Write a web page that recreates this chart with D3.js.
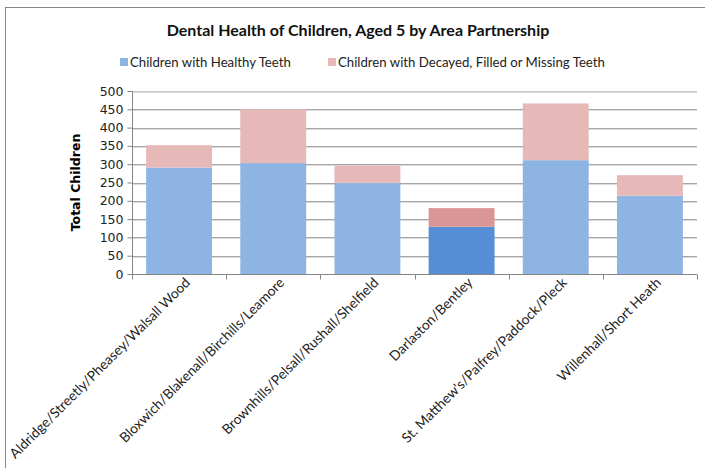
<!DOCTYPE html>
<html><head><meta charset="utf-8">
<script src="https://cdn.jsdelivr.net/npm/d3@7"></script>
<style>body{margin:0;background:#fff}svg{display:block}</style>
</head><body>
<svg id="c" width="705" height="468"></svg>
<script>
const categories = ["Aldridge/Streetly/Pheasey/Walsall Wood","Bloxwich/Blakenall/Birchills/Leamore","Brownhills/Pelsall/Rushall/Shelfield","Darlaston/Bentley","St. Matthew's/Palfrey/Paddock/Pleck","Willenhall/Short Heath"];
const healthy = [291, 303, 249, 129, 311, 214];
const decayed = [61, 147, 47, 51, 155, 56];
const seriesNames = ["Children with Healthy Teeth","Children with Decayed, Filled or Missing Teeth"];
const yTicks = [0,50,100,150,200,250,300,350,400,450,500];
const highlighted = "Darlaston/Bentley";

const svg = d3.select("#c");
const m = {l:132, r:697, t:91, b:274};
svg.append("rect").attr("x",5.5).attr("y",7.5).attr("width",720).attr("height",480).attr("fill","#fff").attr("stroke","#868686");

const x = d3.scaleBand().domain(categories).range([m.l, m.r]).paddingInner(0.3).paddingOuter(0.15);
const y = d3.scaleLinear().domain([0,500]).range([m.b, m.t]);

// gridlines
const g = svg.append("g");
yTicks.filter(t=>t>0).forEach(t=>{
  g.append("line").attr("x1",m.l).attr("x2",m.r).attr("y1",Math.round(y(t))+1.5).attr("y2",Math.round(y(t))+1.5).attr("stroke","#dcdcdc");
  g.append("line").attr("x1",m.l).attr("x2",m.r).attr("y1",Math.round(y(t))+0.5).attr("y2",Math.round(y(t))+0.5).attr("stroke", t===500?"#c8c8c8":"#a6a6a6");
});

const data = categories.map((c,i)=>({c, h:healthy[i], d:decayed[i]}));
const stack = d3.stack().keys(["h","d"])(data);
const colors = {h:["#8EB4E3","#558ED5"], d:["#E6B9B8","#D99694"]};
stack.forEach(s=>{
  svg.append("g").selectAll("rect").data(s).join("rect")
    .attr("x", d=>x(d.data.c)).attr("width", x.bandwidth())
    .attr("y", d=>y(d[1])).attr("height", d=>y(d[0])-y(d[1]))
    .attr("fill", d=>colors[s.key][d.data.c===highlighted?1:0]);
});

// y axis
const ya = svg.append("g").attr("transform",`translate(${m.l+0.5},0)`)
  .call(d3.axisLeft(y).tickValues(yTicks).tickSize(5).tickPadding(4));
ya.select(".domain").attr("stroke","#868686").attr("d",`M0,${m.t}V${m.b}`);
ya.selectAll(".tick line").attr("stroke","#868686");
ya.selectAll(".tick text").attr("font-family","DejaVu Sans").attr("font-size","12.5px").attr("fill","#222");

// x axis
const xa = svg.append("g").attr("transform",`translate(0,${m.b+0.5})`);
xa.append("line").attr("x1",m.l).attr("x2",m.r).attr("stroke","#868686");
const bounds = [m.l, ...categories.map(c=>x(c)+x.bandwidth()+x.step()*x.paddingInner()/2)];
bounds[bounds.length-1] = m.r;
xa.selectAll("line.tk").data(bounds).join("line").attr("class","tk")
  .attr("x1",d=>Math.round(d)+0.5).attr("x2",d=>Math.round(d)+0.5).attr("y1",0).attr("y2",5).attr("stroke","#868686");
xa.selectAll("text").data(categories).join("text")
  .attr("transform", c=>`translate(${x(c)+x.bandwidth()/2+12},${9}) rotate(-45)`)
  .attr("text-anchor","end").attr("font-family","Lato").attr("font-size","13.8px").attr("fill","#222")
  .text(c=>c);

// y title
svg.append("text").attr("transform",`translate(80,${(m.t+m.b)/2}) rotate(-90)`)
  .attr("text-anchor","middle").attr("font-family","DejaVu Sans").attr("font-weight","bold").attr("font-size","12.5px").text("Total Children");

// title
svg.append("text").attr("x",358).attr("y",36).attr("text-anchor","middle")
  .attr("font-family","Lato").attr("font-weight","bold").attr("font-size","16px").attr("fill","#111")
  .text("Dental Health of Children, Aged 5 by Area Partnership");

// legend
const lg = [{x:120, n:seriesNames[0], c:colors.h[0]},{x:328, n:seriesNames[1], c:colors.d[0]}];
lg.forEach(l=>{
  svg.append("rect").attr("x",l.x).attr("y",58).attr("width",8).attr("height",8).attr("fill",l.c);
  svg.append("text").attr("x",l.x+10).attr("y",67).attr("font-family","Lato").attr("font-size","13.2px").attr("fill","#222").text(l.n);
});
</script>
</body></html>
